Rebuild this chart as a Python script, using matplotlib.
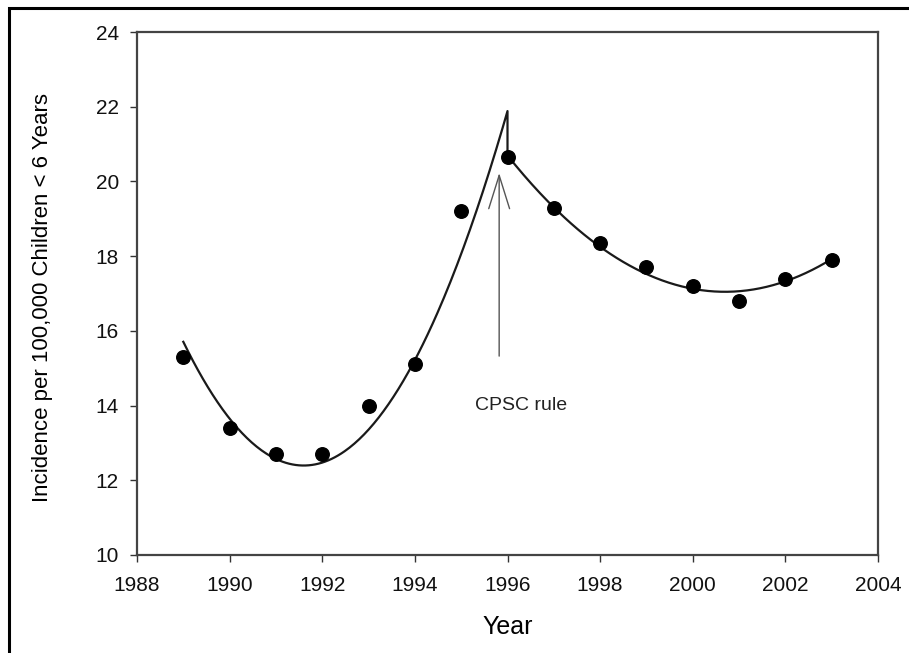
import numpy as np
import matplotlib
matplotlib.use("Agg")
import matplotlib.pyplot as plt
from matplotlib.patches import Rectangle

plt.rcParams['font.family'] = ['Liberation Sans', 'DejaVu Sans']

# Observed data
years = [1989, 1990, 1991, 1992, 1993, 1994, 1995, 1996, 1997, 1998, 1999, 2000, 2001, 2002, 2003]
incidence = [15.3, 13.4, 12.7, 12.7, 14.0, 15.1, 19.2, 20.65, 19.3, 18.35, 17.7, 17.2, 16.8, 17.4, 17.9]

# Fitted curve values (before / after the rule)
fit1_years = [1989, 1990, 1991, 1992, 1993, 1994, 1995, 1996]
fit1_vals = [15.7, 13.65, 12.58, 12.48, 13.36, 15.21, 18.04, 21.9]
fit2_years = [1996, 1997, 1998, 1999, 2000, 2001, 2002, 2003]
fit2_vals = [20.7, 19.3, 18.25, 17.52, 17.13, 17.06, 17.33, 17.92]

xticks = [1988, 1990, 1992, 1994, 1996, 1998, 2000, 2002, 2004]
yticks = [10, 12, 14, 16, 18, 20, 22, 24]

fig = plt.figure(figsize=(9.09, 6.53), dpi=100)
ax = fig.add_axes([137/909, 1-555/653, (878-137)/909, (555-32)/653])

# smooth fitted curves from read values
c1 = np.polyfit(fit1_years, fit1_vals, 2)
xs1 = np.linspace(fit1_years[0], fit1_years[-1], 200)
c2 = np.polyfit(fit2_years, fit2_vals, 2)
xs2 = np.linspace(fit2_years[0], fit2_years[-1], 200)
line_x = np.concatenate([xs1, xs2])
line_y = np.concatenate([np.polyval(c1, xs1), np.polyval(c2, xs2)])
ax.plot(line_x, line_y, color='#1a1a1a', lw=1.6)

ax.scatter(years, incidence, s=95, color='black', zorder=3)

# CPSC rule arrow
ax.annotate('', xy=(1995.82, 20.3), xytext=(1995.82, 15.25),
            arrowprops=dict(arrowstyle='->,head_length=2.4,head_width=0.75',
                            color='#555555', lw=1.0))
ax.text(1996.29, 14.0, 'CPSC rule', ha='center', va='center', fontsize=14, color='#222222')

ax.set_xlim(1988, 2004)
ax.set_ylim(10, 24)
ax.set_xticks(xticks)
ax.set_yticks(yticks)
ax.tick_params(direction='out', length=5, width=1, labelsize=15, color='#333333',
               labelcolor='#111111', top=False, right=False)
ax.tick_params(axis='x', pad=10)
ax.tick_params(axis='y', pad=8)
for s in ax.spines.values():
    s.set_color('#444444')
    s.set_linewidth(1.6)

ax.set_xlabel('Year', fontsize=18, va='center')
ax.xaxis.set_label_coords(0.5, -0.138)
ax.set_ylabel('Incidence per 100,000 Children < 6 Years', fontsize=16, va='center')
ax.yaxis.set_label_coords(-0.128, 0.493)

# outer frame
fig.patches.append(Rectangle((9/909, -0.05), 1.2, 1.05 - 8/653, transform=fig.transFigure,
                             fill=False, edgecolor='black', lw=2.2))

fig.savefig('out.png', dpi=100)
